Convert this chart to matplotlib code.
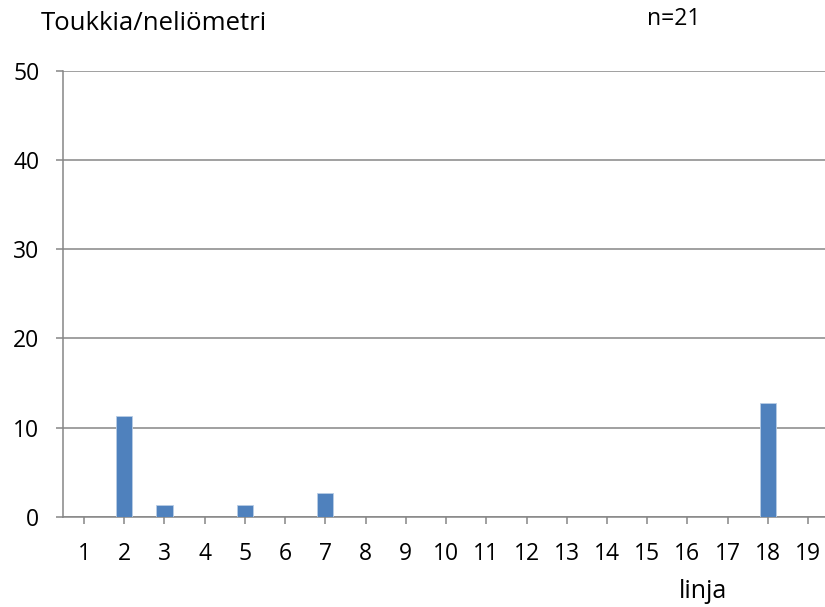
import matplotlib.pyplot as plt

# Toukkia per neliömetri linjoittain
linjat = list(range(1, 20))
toukat = [0, 11.3, 1.3, 0, 1.3, 0, 2.7, 0, 0, 0, 0, 0, 0, 0, 0, 0, 0, 12.7, 0]
y_ticks = [0, 10, 20, 30, 40, 50]

plt.rcParams['font.family'] = ['Open Sans', 'DejaVu Sans']

fig = plt.figure(figsize=(8.25, 6.07), dpi=100)
# plot area in pixels: left 63, right 825, top 70.7, bottom 516.7
ax = fig.add_axes([63 / 825, 1 - 516.7 / 607, (825 - 63) / 825, (516.7 - 70.7) / 607])

ax.bar(linjat, toukat, width=0.4, color='#4F81BD', edgecolor='#B9CDE5', linewidth=0.6, zorder=3)

ax.set_xlim(0.478, 19.42)
ax.set_ylim(0, 50)
ax.set_xticks(linjat)
ax.set_xticklabels([str(i) for i in linjat])
ax.set_yticks(y_ticks)

ax.grid(axis='y', color='#868686', linewidth=1.1, zorder=0)
for side in ['top', 'right']:
    ax.spines[side].set_visible(False)
for side in ['left', 'bottom']:
    ax.spines[side].set_color('#868686')
    ax.spines[side].set_linewidth(1.1)

ax.tick_params(axis='x', length=5, width=1.1, color='#868686', pad=13.5, labelsize=16.5)
ax.tick_params(axis='y', length=5, width=1.1, color='#868686', pad=12, labelsize=16.5)

fig.text(41 / 825, 1 - 30 / 607, 'Toukkia/neliömetri', fontsize=18.5, va='baseline', ha='left')
fig.text(647 / 825, 1 - 25 / 607, 'n=21', fontsize=16.5, va='baseline', ha='left')
fig.text(703 / 825, 1 - 598 / 607, 'linja', fontsize=18, va='baseline', ha='center')

fig.savefig('out.png', dpi=100)
